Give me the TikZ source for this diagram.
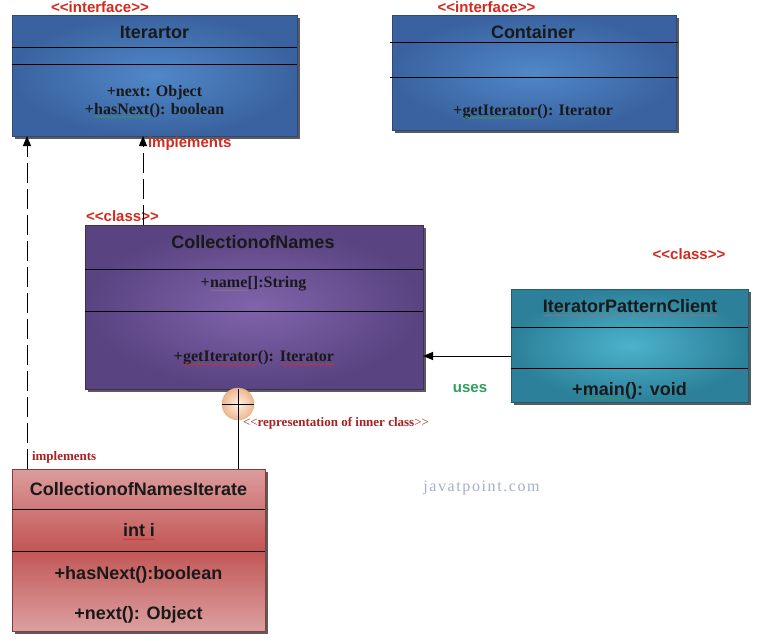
\documentclass[tikz,border=0pt]{standalone}
\usepackage{fontspec}
\setmainfont{Liberation Serif}
\setsansfont{Liberation Sans}
\newfontfamily\jtpfont[LetterSpace=10]{Liberation Serif}
\usetikzlibrary{arrows.meta,shadows,decorations.pathmorphing}
\definecolor{blueO}{HTML}{3A62A0}
\definecolor{blueL}{HTML}{5088C8}
\definecolor{blueD}{HTML}{2A4A7A}
\definecolor{purO}{HTML}{594380}
\definecolor{purL}{HTML}{8064AC}
\definecolor{purD}{HTML}{3E2E5C}
\definecolor{tealO}{HTML}{2C8099}
\definecolor{tealL}{HTML}{4CB2CC}
\definecolor{tealD}{HTML}{1E5E70}
\definecolor{redT}{HTML}{DC9C9C}
\definecolor{redM}{HTML}{C25656}
\definecolor{redB}{HTML}{DCA0A0}
\definecolor{redD}{HTML}{8A3A3A}
\definecolor{lblred}{HTML}{D42A1E}
\definecolor{dkred}{HTML}{A82222}
\definecolor{usegreen}{HTML}{2E9E5A}
\definecolor{jtp}{HTML}{A6AECA}
\definecolor{peachO}{HTML}{EDB78E}
\definecolor{peachL}{HTML}{FFF2E6}
\definecolor{wgreen}{HTML}{3A9A50}
\definecolor{wred}{HTML}{D03030}
\definecolor{wgray}{HTML}{8A7A7A}
\newcommand\wv[2]{\tikz[baseline=(w.base)]{\node[inner sep=0pt,outer sep=0pt](w){#2};\draw[#1,line width=.5pt,decorate,decoration={snake,amplitude=.7pt,segment length=2.6pt}]([yshift=-2.6pt]w.base west)--([yshift=-2.6pt]w.base east);}}
\newcommand\LLt{\mbox{<}\mbox{<}}
\newcommand\GGt{\mbox{>}\mbox{>}}
\begin{document}
\begin{tikzpicture}[x=1pt,y=-1pt,
  every node/.style={inner sep=0pt,outer sep=0pt},
  ttl/.style={font=\sffamily\bfseries\fontsize{18}{20}\selectfont,text=black!90},
  mbs/.style={font=\rmfamily\bfseries\fontsize{16}{18}\selectfont,text=black!90},
  mss/.style={font=\sffamily\bfseries\fontsize{18}{20}\selectfont,text=black!90},
  stereo/.style={font=\sffamily\bfseries\fontsize{15}{17}\selectfont,text=lblred},
  sep/.style={draw=black,line width=0.9pt},
  shd/.style={drop shadow={shadow xshift=2.5pt,shadow yshift=-2.5pt,fill=black!80,opacity=.8}},
  dep/.style={draw=black,line width=1pt,dash pattern=on 20pt off 6pt,-{Triangle[length=10pt,width=8pt]}},
  assoc/.style={draw=black,line width=1pt,-{Triangle[length=10pt,width=8pt]}}]
\useasboundingbox[fill=white] (0,0) rectangle (762,643);

% Iterartor
\node[shd,draw=blueD,line width=.6pt,inner color=blueL,outer color=blueO,minimum width=285pt,minimum height=121pt] (itr) at (154.5,75.5) {};
\draw[sep] ([yshift=-32pt]itr.north west) -- ([yshift=-32pt]itr.north east);
\draw[sep] ([yshift=-49pt]itr.north west) -- ([yshift=-49pt]itr.north east);
\node[ttl] (itrT) at (154.5,32) {Iterartor};
\node[mbs] (itrM1) at (154.5,92.5) {+next: Object};
\node[mbs] (itrM2) at (154.5,110.5) {+\wv{wgreen}{hasNext}(): boolean};
\node[stereo] (itrS) at (100,7) {\LLt interface\GGt};

% Container
\node[shd,draw=blueD,line width=.6pt,inner color=blueL,outer color=blueO,minimum width=284pt,minimum height=115pt] (ctr) at (534,72.5) {};
\draw[sep] ([yshift=-27pt,xshift=-2pt]ctr.north west) -- ([yshift=-27pt,xshift=2pt]ctr.north east);
\draw[sep] ([yshift=-62pt,xshift=-2pt]ctr.north west) -- ([yshift=-62pt,xshift=2pt]ctr.north east);
\node[ttl] (ctrT) at (533,32) {Container};
\node[mbs] (ctrM) at (533,111.5) {+\wv{wgreen}{getIterator}(): Iterator};
\node[stereo] (ctrS) at (486.5,7) {\LLt interface\GGt};

% CollectionofNames
\node[shd,draw=purD,line width=.6pt,inner color=purL,outer color=purO,minimum width=338pt,minimum height=164pt] (col) at (254,307) {};
\draw[sep] ([yshift=-44pt]col.north west) -- ([yshift=-44pt]col.north east);
\draw[sep] ([yshift=-86pt]col.north west) -- ([yshift=-86pt]col.north east);
\node[ttl] (colT) at (253,242) {CollectionofNames};
\node[mbs] (colM1) at (253.5,284) {+\wv{wgray}{name}[]:String};
\node[mbs] (colM2) at (254,358) {+\wv{wred}{getIterator}():\hspace{.35em}\wv{wred}{Iterator}};
\node[stereo] (colS) at (122.5,216) {\LLt class\GGt};

% IteratorPatternClient
\node[shd,draw=tealD,line width=.6pt,inner color=tealL,outer color=tealO,minimum width=237pt,minimum height=113pt] (cli) at (629.5,345.5) {};
\draw[sep] ([yshift=-38pt]cli.north west) -- ([yshift=-38pt]cli.north east);
\draw[sep] ([yshift=-79pt]cli.north west) -- ([yshift=-79pt]cli.north east);
\node[ttl] (cliT) at (630,308) {\wv{wgray}{IteratorPatternClient}};
\node[mss] (cliM) at (629.5,391) {+\wv{wgreen}{main}(): void};
\node[stereo] (cliS) at (689,254) {\LLt class\GGt};

% CollectionofNamesIterate
\node[shd,draw=redD,line width=.6pt,top color=redT,bottom color=redB,middle color=redM,minimum width=253pt,minimum height=162pt] (ite) at (138.5,550) {};
\draw[sep] ([yshift=-40pt]ite.north west) -- ([yshift=-40pt]ite.north east);
\draw[sep] ([yshift=-82pt]ite.north west) -- ([yshift=-82pt]ite.north east);
\node[ttl] (iteT) at (138.5,489.5) {CollectionofNamesIterate};
\node[mss] (iteA) at (139,532) {\wv{wred}{int i}};
\node[mss] (iteM1) at (138.5,575) {+hasNext():boolean};
\node[mss] (iteM2) at (138.5,615) {+next(): Object};

% inner class symbol
\node[circle,minimum size=32pt,draw=peachO!80!brown,line width=.4pt,inner color=peachL,outer color=peachO] (inr) at (238,404) {};
\draw[line width=1pt] (col.south -| inr.center) -- (ite.north -| inr.center);
\draw[line width=1pt] (inr.west) -- (inr.east);
\node[font=\rmfamily\bfseries\fontsize{13}{15}\selectfont,text=dkred,anchor=west] (inrL) at (243,423) {{\mdseries\LLt}representation of inner class{\mdseries\GGt}};

% realizations
\coordinate (d1) at ([xshift=15pt]ite.north west);
\draw[dep] (d1) -- (d1 |- itr.south);
\coordinate (d2) at ([xshift=58pt]col.north west);
\draw[dep] (d2) -- (d2 |- itr.south);
\node[stereo,anchor=west] (impT) at (148,144) {implements};
\node[font=\rmfamily\bfseries\fontsize{13}{15}\selectfont,text=dkred,anchor=west] (impB) at (32,457) {implements};

% association
\coordinate (u1) at ([yshift=-10.5pt]cli.west);
\draw[assoc] (u1) -- (u1 -| col.east);
\node[font=\sffamily\bfseries\fontsize{15}{17}\selectfont,text=usegreen] (uses) at (470,389) {uses};

% watermark
\node[font=\jtpfont\fontsize{16}{18}\selectfont,text=jtp] (wm) at (481.5,488) {javatpoint.com};
\end{tikzpicture}
\end{document}
